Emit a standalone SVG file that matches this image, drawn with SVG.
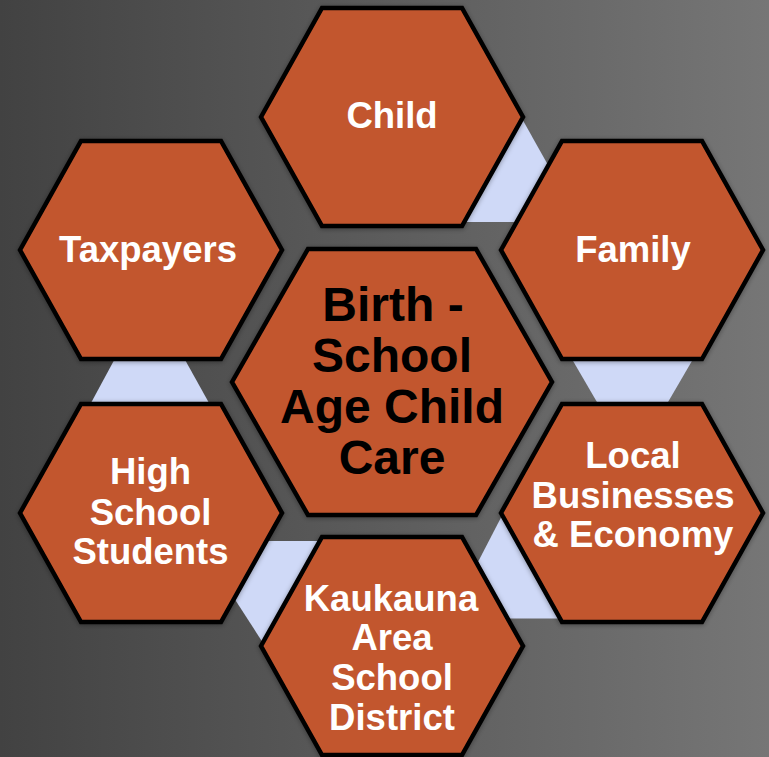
<svg xmlns="http://www.w3.org/2000/svg" xmlns:xlink="http://www.w3.org/1999/xlink" width="769" height="757" viewBox="0 0 769 757">
  <defs>
    <linearGradient id="bg" x1="0" y1="0" x2="1" y2="0">
      <stop offset="0" stop-color="#424242"/>
      <stop offset="1" stop-color="#767676"/>
    </linearGradient>
    <filter id="sh" x="-10%" y="-10%" width="120%" height="120%">
      <feDropShadow dx="0" dy="1" stdDeviation="2.5" flood-color="#000" flood-opacity="0.35"/>
    </filter>
    <polygon id="hex" points="-131,0 -70,-109 70,-109 131,0 70,109 -70,109"/>
  </defs>
  <style>
    .hx { fill: #c2572f; stroke: #000; stroke-width: 4.5; stroke-linejoin: miter; filter: url(#sh); }
    .link { fill: #cfd9f7; stroke: none; }
    .lbl { font-family: "Liberation Sans", Arial, sans-serif; font-weight: bold; font-size: 36.5px; fill: #ffffff; text-anchor: middle; }
    .ctr { font-family: "Liberation Sans", Arial, sans-serif; font-weight: bold; font-size: 48px; fill: #000000; text-anchor: middle; }
  </style>

  <rect x="0" y="0" width="769" height="757" fill="url(#bg)"/>

  <g id="connectors">
    <polygon class="link" points="410,165 442,108 516,108 548,165 516,222 442,222"/>
    <polygon class="link" points="555,330 710,330 663.4,410 601.6,410"/>
    <polygon class="link" points="478,562 508,504 600,504 600,618.5 509,618.5"/>
    <polygon class="link" points="262,541 330,541 330,660 274,660 234,598"/>
    <polygon class="link" points="125,340 174,340 215.7,415 84.5,415"/>
  </g>

  <g id="node-child">
    <use xlink:href="#hex" class="hx" transform="translate(392,117)"/>
    <text class="lbl" x="392" y="128">Child</text>
  </g>

  <g id="node-family">
    <use xlink:href="#hex" class="hx" transform="translate(632,250)"/>
    <text class="lbl" x="633" y="262">Family</text>
  </g>

  <g id="node-local">
    <use xlink:href="#hex" class="hx" transform="translate(632,513)"/>
    <text class="lbl" x="633" y="468">Local</text>
    <text class="lbl" x="633" y="508">Businesses</text>
    <text class="lbl" x="633" y="547">&amp; Economy</text>
  </g>

  <g id="node-kaukauna">
    <use xlink:href="#hex" class="hx" transform="translate(392,646)"/>
    <text class="lbl" x="391" y="611">Kaukauna</text>
    <text class="lbl" x="392" y="650">Area</text>
    <text class="lbl" x="392" y="690">School</text>
    <text class="lbl" x="392" y="730">District</text>
  </g>

  <g id="node-highschool">
    <use xlink:href="#hex" class="hx" transform="translate(151,513)"/>
    <text class="lbl" x="150.5" y="484">High</text>
    <text class="lbl" x="150.5" y="525">School</text>
    <text class="lbl" x="150.5" y="564">Students</text>
  </g>

  <g id="node-taxpayers">
    <use xlink:href="#hex" class="hx" transform="translate(151,250)"/>
    <text class="lbl" x="148" y="262">Taxpayers</text>
  </g>

  <g id="node-center">
    <polygon class="hx" points="232,382 308,249 476,249 552,382 476,515 308,515"/>
    <text class="ctr" x="393" y="321">Birth -</text>
    <text class="ctr" x="392" y="372">School</text>
    <text class="ctr" x="392" y="423">Age Child</text>
    <text class="ctr" x="392" y="474">Care</text>
  </g>
</svg>
